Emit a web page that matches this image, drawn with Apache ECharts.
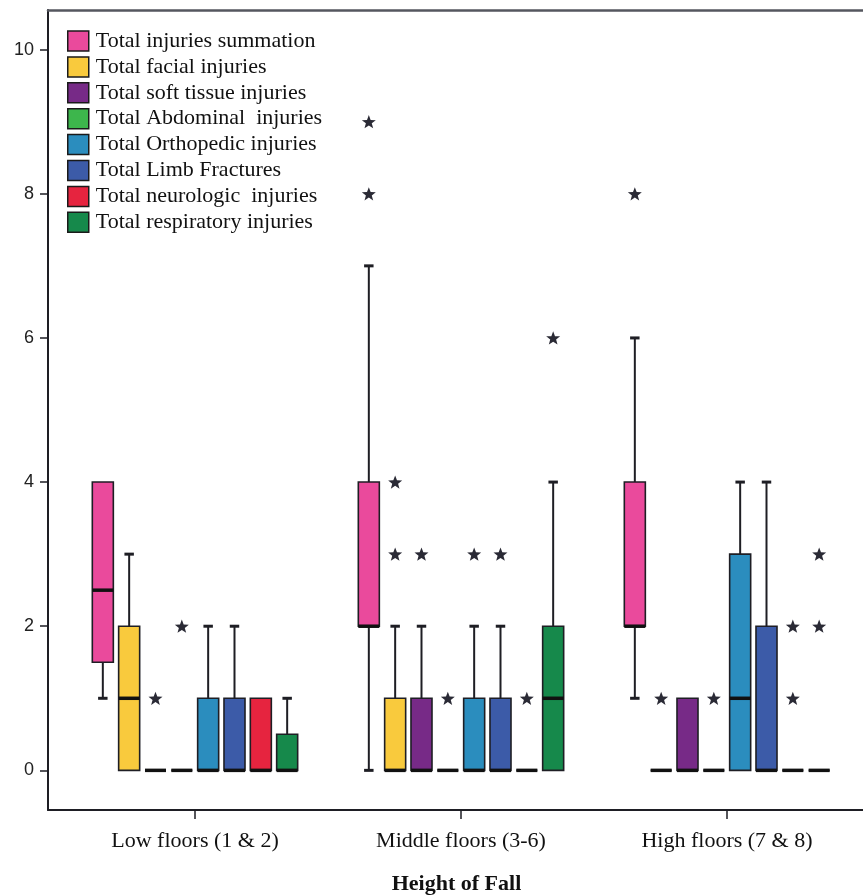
<!DOCTYPE html>
<html><head><meta charset="utf-8">
<script src="https://cdn.jsdelivr.net/npm/echarts@6/dist/echarts.min.js"></script>
<style>html,body{margin:0;padding:0;background:#fff}#c{width:863px;height:896px}</style>
</head><body><div id="c"></div>
<script>
const categories = ['Low floors (1 & 2)', 'Middle floors (3-6)', 'High floors (7 & 8)'];
const seriesNames = ['Total injuries summation', 'Total facial injuries', 'Total soft tissue injuries',
  'Total Abdominal  injuries', 'Total Orthopedic injuries', 'Total Limb Fractures',
  'Total neurologic  injuries', 'Total respiratory injuries'];
const seriesColors = ['#EA4A9C', '#F9CA3D', '#772A87', '#3DB64C', '#2B8DBE', '#3C5BA8', '#E6243F', '#16894B'];
const yTicks = [0, 2, 4, 6, 8, 10];

// per category: [lower whisker, Q1, median, Q3, upper whisker]
const summationBox = [[1, 1.5, 2.5, 4, 4], [0, 2, 2, 4, 7], [1, 2, 2, 4, 6]];
const facialBox    = [[0, 0, 1, 2, 3], [0, 0, 0, 1, 2], [0, 0, 0, 0, 0]];
const softBox      = [[0, 0, 0, 0, 0], [0, 0, 0, 1, 2], [0, 0, 0, 1, 1]];
const abdominalBox = [[0, 0, 0, 0, 0], [0, 0, 0, 0, 0], [0, 0, 0, 0, 0]];
const orthoBox     = [[0, 0, 0, 1, 2], [0, 0, 0, 1, 2], [0, 0, 1, 3, 4]];
const limbBox      = [[0, 0, 0, 1, 2], [0, 0, 0, 1, 2], [0, 0, 0, 2, 4]];
const neuroBox     = [[0, 0, 0, 1, 1], [0, 0, 0, 0, 0], [0, 0, 0, 0, 0]];
const respBox      = [[0, 0, 0, 0.5, 1], [0, 0, 1, 2, 4], [0, 0, 0, 0, 0]];

// extreme values (stars) per category
const summationOut = [[], [8, 9], [8]];
const facialOut    = [[], [3, 4], [1]];
const softOut      = [[1], [3], []];
const abdominalOut = [[2], [1], [1]];
const orthoOut     = [[], [3], []];
const limbOut      = [[], [3], []];
const neuroOut     = [[], [1], [1, 2]];
const respOut      = [[], [6], [2, 3]];

const allBoxes = [summationBox, facialBox, softBox, abdominalBox, orthoBox, limbBox, neuroBox, respBox];
const allOut = [summationOut, facialOut, softOut, abdominalOut, orthoOut, limbOut, neuroOut, respOut];

const SLOT = 0.099, BOXW = 0.079;
const INK = '#1e1e24';

// 5-point star path
function starPath() {
  let d = '';
  for (let i = 0; i < 10; i++) {
    const r = i % 2 === 0 ? 10 : 4.2;
    const a = -Math.PI / 2 + i * Math.PI / 5;
    const x = (10 + r * Math.cos(a)).toFixed(2), y = (10 + r * Math.sin(a)).toFixed(2);
    d += (i === 0 ? 'M' : 'L') + x + ' ' + y + ' ';
  }
  return d + 'Z';
}
const STAR = starPath();

function renderBox(params, api) {
  const si = params.seriesIndex;
  const di = params.dataIndex;
  const g = api.value(0);
  const off = (si - 3.5) * SLOT;
  const cx = api.coord([g + off, 0])[0];
  const w = api.size([BOXW, 0])[0];
  const capW = w * 0.45;
  const y = k => api.coord([g, api.value(k)])[1];
  const yLow = y(1), yQ1 = y(2), yMed = y(3), yQ3 = y(4), yHigh = y(5);
  const color = seriesColors[si];
  const ch = [];
  if (api.value(5) > api.value(4)) {
    ch.push({type: 'line', shape: {x1: cx, y1: yQ3, x2: cx, y2: yHigh}, style: {stroke: INK, lineWidth: 2}});
    ch.push({type: 'line', shape: {x1: cx - capW / 2, y1: yHigh, x2: cx + capW / 2, y2: yHigh}, style: {stroke: INK, lineWidth: 3}});
  }
  if (api.value(1) < api.value(2)) {
    ch.push({type: 'line', shape: {x1: cx, y1: yQ1, x2: cx, y2: yLow}, style: {stroke: INK, lineWidth: 2}});
    ch.push({type: 'line', shape: {x1: cx - capW / 2, y1: yLow, x2: cx + capW / 2, y2: yLow}, style: {stroke: INK, lineWidth: 3}});
  }
  ch.push({type: 'rect', shape: {x: cx - w / 2, y: yQ3, width: w, height: yQ1 - yQ3},
    style: {fill: color, stroke: INK, lineWidth: 1.6}});
  ch.push({type: 'line', shape: {x1: cx - w / 2, y1: yMed, x2: cx + w / 2, y2: yMed}, style: {stroke: '#111', lineWidth: 3.5}});
  (allOut[si][di] || []).forEach(v => {
    const sy = api.coord([g, v])[1];
    ch.push({type: 'path', shape: {pathData: STAR, x: cx - 7, y: sy - 7, width: 14, height: 14},
      style: {fill: '#2a2a35'}});
  });
  return {type: 'group', children: ch};
}

const series = seriesNames.map((name, i) => ({
  name: name,
  type: 'custom',
  renderItem: renderBox,
  itemStyle: {color: seriesColors[i]},
  encode: {x: 0, y: [1, 2, 3, 4, 5]},
  data: allBoxes[i].map((b, gi) => [gi].concat(b))
}));

const chart = echarts.init(document.getElementById('c'), null, {renderer: 'canvas'});
const XMIN = -0.5526, XMAX = 2.5188;
chart.setOption({
  animation: false,
  backgroundColor: '#fff',
  grid: {left: 48, right: -2, top: 10, bottom: 86, containLabel: false, outerBoundsMode: 'none'},
  legend: {
    orient: 'vertical', left: 67, top: 30, padding: 0,
    icon: 'rect', itemWidth: 21, itemHeight: 20, itemGap: 3.9,
    itemStyle: {borderColor: '#1a1a1a', borderWidth: 1.5},
    textStyle: {fontFamily: 'Liberation Serif', fontSize: 22, color: '#111', padding: [0, 0, 0, 2]},
    data: seriesNames, selectedMode: false
  },
  xAxis: [{
    type: 'value', min: XMIN, max: XMAX,
    splitLine: {show: false},
    axisLine: {show: true, onZero: false, lineStyle: {color: INK, width: 2}},
    axisTick: {show: true, customValues: [0, 1, 2], length: 9, lineStyle: {color: INK, width: 1.5}},
    axisLabel: {customValues: [0, 1, 2], formatter: v => categories[Math.round(v)] || '',
      fontFamily: 'Liberation Serif', fontSize: 22, color: '#111', margin: 20},
    name: 'Height of Fall', nameLocation: 'middle', nameGap: 63,
    nameTextStyle: {fontFamily: 'Liberation Serif', fontSize: 22, fontWeight: 'bold', color: '#111'}
  }, {
    type: 'value', position: 'top', min: XMIN, max: XMAX,
    splitLine: {show: false},
    axisLine: {show: true, onZero: false, lineStyle: {color: '#55575f', width: 2.5}},
    axisTick: {show: false}, axisLabel: {show: false}
  }],
  yAxis: {
    type: 'value', min: -0.55, max: 10.55,
    splitLine: {show: false},
    axisLine: {show: true, onZero: false, lineStyle: {color: INK, width: 2}},
    axisTick: {show: true, customValues: yTicks, length: 8, lineStyle: {color: INK, width: 1.5}},
    axisLabel: {customValues: yTicks, fontFamily: 'Liberation Sans', fontSize: 18, color: '#222', margin: 14}
  },
  series: series
});
</script></body></html>
